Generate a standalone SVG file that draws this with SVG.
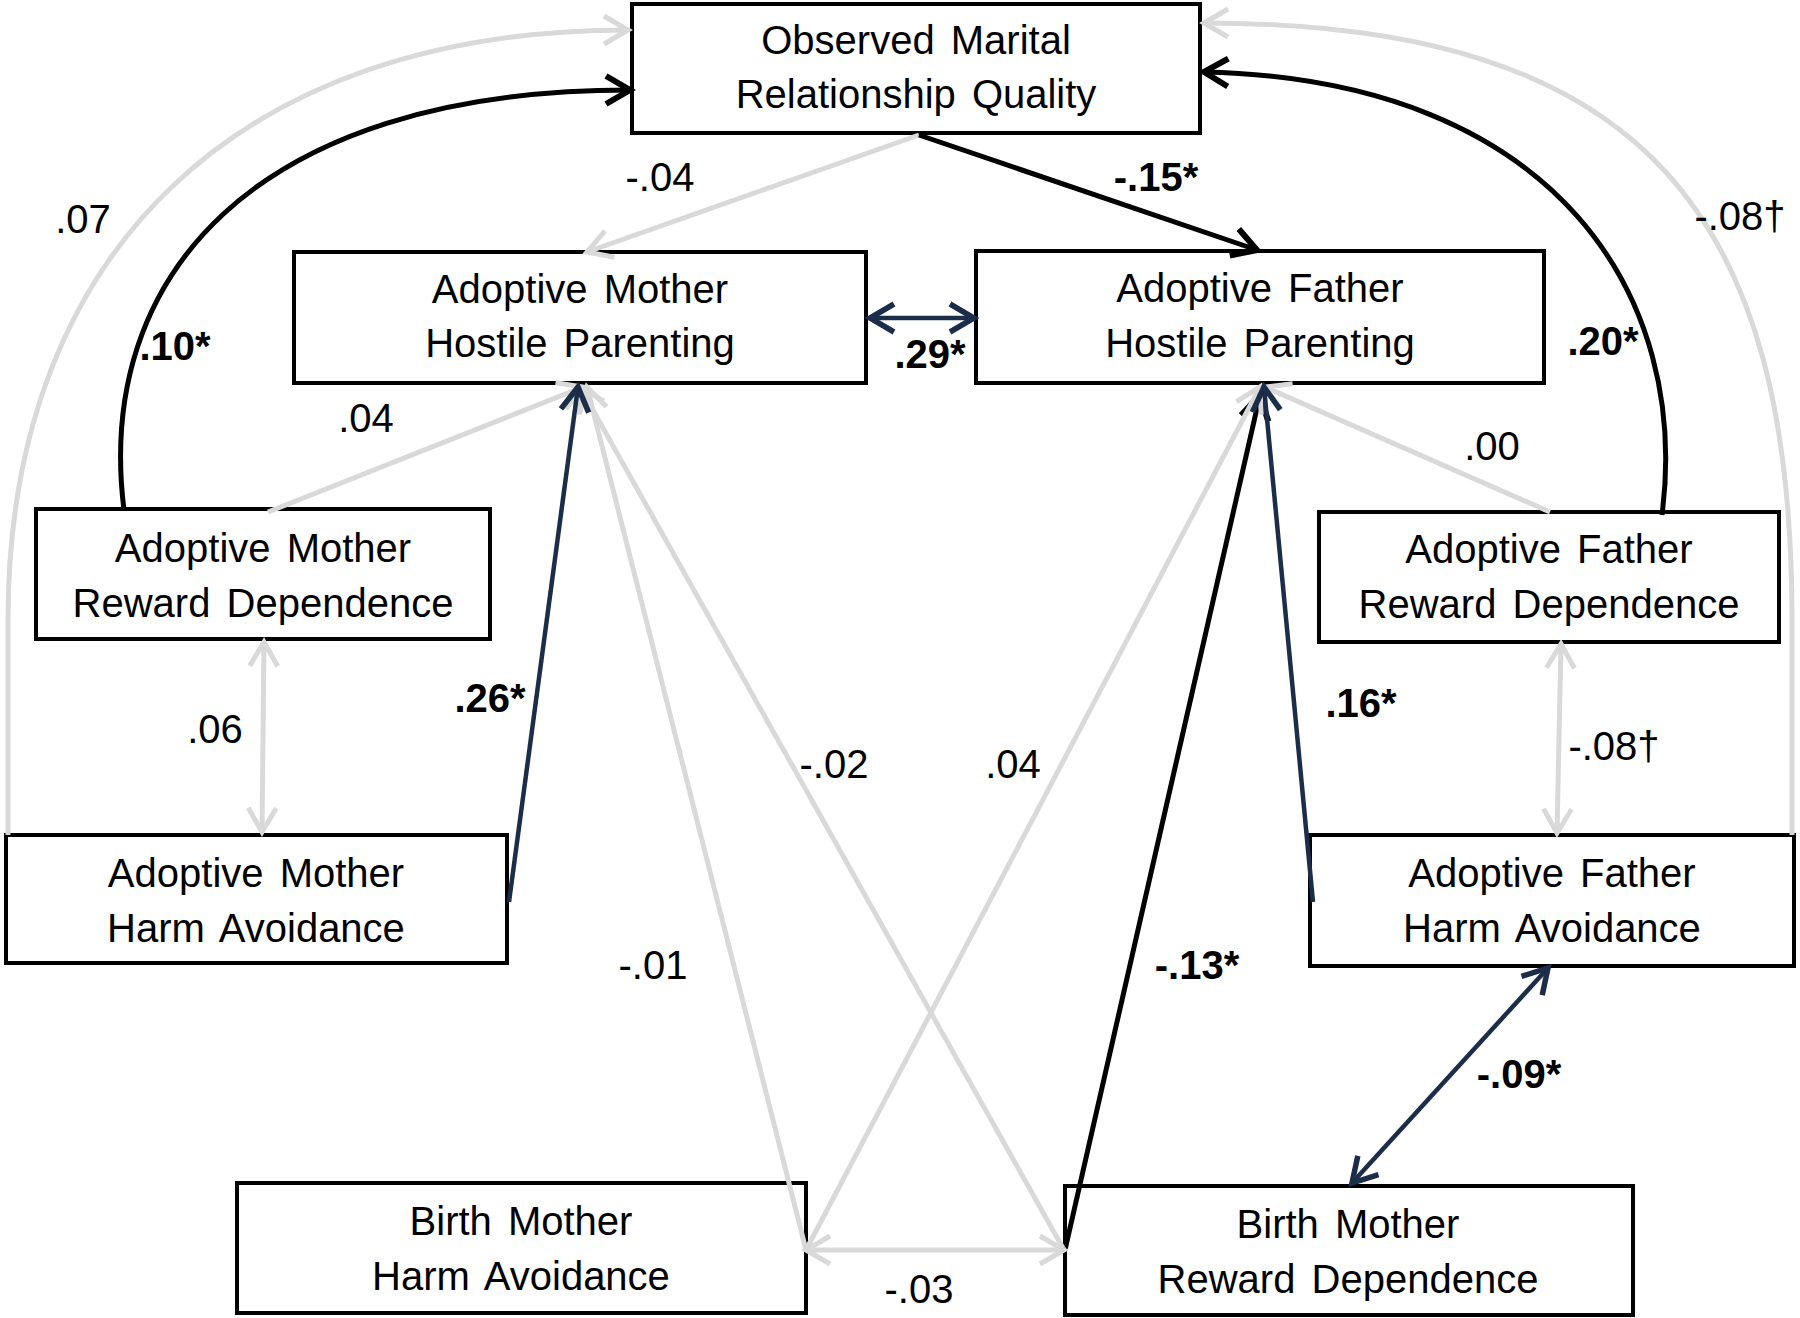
<svg xmlns="http://www.w3.org/2000/svg" width="1800" height="1318" viewBox="0 0 1800 1318">
<style>
.box{fill:#fff;stroke:#000;stroke-width:4}
.nt{font-family:"Liberation Sans",Arial,sans-serif;font-size:40px;fill:#000;text-anchor:middle;word-spacing:5px}
.lb{font-family:"Liberation Sans",Arial,sans-serif;font-size:40px;fill:#000;text-anchor:middle}
.b{font-weight:bold}
.g{fill:none;stroke:#d9d9d9;stroke-width:5}
.k{fill:none;stroke:#000;stroke-width:5}
.n{fill:none;stroke:#1c2d4a;stroke-width:4.5}
</style>
<defs>
<marker id="ag" viewBox="-30 -20 40 40" refX="0" refY="0" markerWidth="40" markerHeight="40" orient="auto-start-reverse" markerUnits="userSpaceOnUse"><path d="M-24,-14 L0,0 L-24,14" fill="none" stroke="#d9d9d9" stroke-width="5"/></marker>
<marker id="ak" viewBox="-30 -20 40 40" refX="0" refY="0" markerWidth="40" markerHeight="40" orient="auto-start-reverse" markerUnits="userSpaceOnUse"><path d="M-24,-14 L0,0 L-24,14" fill="none" stroke="#000" stroke-width="6"/></marker>
<marker id="an" viewBox="-30 -20 40 40" refX="0" refY="0" markerWidth="40" markerHeight="40" orient="auto-start-reverse" markerUnits="userSpaceOnUse"><path d="M-24,-14 L0,0 L-24,14" fill="none" stroke="#1c2d4a" stroke-width="5.5"/></marker>
</defs>
<rect width="1800" height="1318" fill="#fff"/>
<g id="observed">
<rect class="box" x="632" y="4" width="568" height="129"/>
<text class="nt" x="916" y="54">Observed Marital</text>
<text class="nt" x="916" y="108">Relationship Quality</text>
</g>
<g id="am-hostile">
<rect class="box" x="294" y="252" width="572" height="131"/>
<text class="nt" x="580" y="303">Adoptive Mother</text>
<text class="nt" x="580" y="357">Hostile Parenting</text>
</g>
<g id="af-hostile">
<rect class="box" x="976" y="251" width="568" height="132"/>
<text class="nt" x="1260" y="302">Adoptive Father</text>
<text class="nt" x="1260" y="357">Hostile Parenting</text>
</g>
<g id="am-reward">
<rect class="box" x="36" y="509" width="454" height="130"/>
<text class="nt" x="263" y="562">Adoptive Mother</text>
<text class="nt" x="263" y="617">Reward Dependence</text>
</g>
<g id="af-reward">
<rect class="box" x="1319" y="512" width="460" height="130"/>
<text class="nt" x="1549" y="563">Adoptive Father</text>
<text class="nt" x="1549" y="618">Reward Dependence</text>
</g>
<g id="am-harm">
<rect class="box" x="6" y="835" width="501" height="128"/>
<text class="nt" x="256" y="887">Adoptive Mother</text>
<text class="nt" x="256" y="942">Harm Avoidance</text>
</g>
<g id="af-harm">
<rect class="box" x="1310" y="835" width="484" height="131"/>
<text class="nt" x="1552" y="887">Adoptive Father</text>
<text class="nt" x="1552" y="942">Harm Avoidance</text>
</g>
<g id="bm-harm">
<rect class="box" x="237" y="1183" width="569" height="130"/>
<text class="nt" x="521" y="1235">Birth Mother</text>
<text class="nt" x="521" y="1290">Harm Avoidance</text>
</g>
<g id="bm-reward">
<rect class="box" x="1065" y="1186" width="568" height="129"/>
<text class="nt" x="1348" y="1238">Birth Mother</text>
<text class="nt" x="1348" y="1293">Reward Dependence</text>
</g>
<g id="connectors">
<path class="k" d="M1065,1250 L1260,395" marker-end="url(#ak)"/>
<path class="g" d="M8,835 L8,620 C8,250 240,30 628,30" marker-end="url(#ag)"/>
<path class="g" d="M1792,835 L1792,620 C1792,220 1650,23 1204,23" marker-end="url(#ag)"/>
<path class="g" d="M919,135 L587,252" marker-end="url(#ag)"/>
<path class="g" d="M268,512 L583,387" marker-end="url(#ag)"/>
<path class="g" d="M264,642 L262,832" marker-start="url(#ag)" marker-end="url(#ag)"/>
<path class="g" d="M1550,512 L1265,387" marker-end="url(#ag)"/>
<path class="g" d="M1561,644 L1557,833" marker-start="url(#ag)" marker-end="url(#ag)"/>
<path class="g" d="M806,1250 L1064,1250" marker-start="url(#ag)" marker-end="url(#ag)"/>
<path class="g" d="M806,1250 L587,387" marker-end="url(#ag)"/>
<path class="g" d="M1064,1250 L580,387" marker-end="url(#ag)"/>
<path class="g" d="M806,1250 L1260,387" marker-end="url(#ag)"/>
<path class="k" d="M919,135 L1257,250" marker-end="url(#ak)"/>
<path class="k" d="M124,510 C95,280 250,90 630,90" marker-end="url(#ak)"/>
<path class="k" d="M1662,515 C1690,300 1560,80 1204,72" marker-end="url(#ak)"/>
<path class="n" d="M870,318 L974,318" marker-start="url(#an)" marker-end="url(#an)"/>
<path class="n" d="M509,902 L578,387" marker-end="url(#an)"/>
<path class="n" d="M1313,902 L1264,387" marker-end="url(#an)"/>
<path class="n" d="M1548,968 L1352,1183" marker-start="url(#an)" marker-end="url(#an)"/>
</g>
<g id="labels">
<text class="lb" x="660" y="191">-.04</text>
<text class="lb b" x="1156" y="191">-.15*</text>
<text class="lb" x="83" y="233">.07</text>
<text class="lb b" x="175" y="360">.10*</text>
<text class="lb" x="1740" y="230">-.08†</text>
<text class="lb b" x="1603" y="355">.20*</text>
<text class="lb b" x="930" y="368">.29*</text>
<text class="lb" x="366" y="432">.04</text>
<text class="lb" x="1492" y="460">.00</text>
<text class="lb b" x="490" y="712">.26*</text>
<text class="lb" x="215" y="743">.06</text>
<text class="lb b" x="1361" y="717">.16*</text>
<text class="lb" x="1614" y="760">-.08†</text>
<text class="lb" x="834" y="778">-.02</text>
<text class="lb" x="1013" y="778">.04</text>
<text class="lb" x="653" y="979">-.01</text>
<text class="lb b" x="1197" y="979">-.13*</text>
<text class="lb b" x="1519" y="1088">-.09*</text>
<text class="lb" x="919" y="1303">-.03</text>
</g>
</svg>
